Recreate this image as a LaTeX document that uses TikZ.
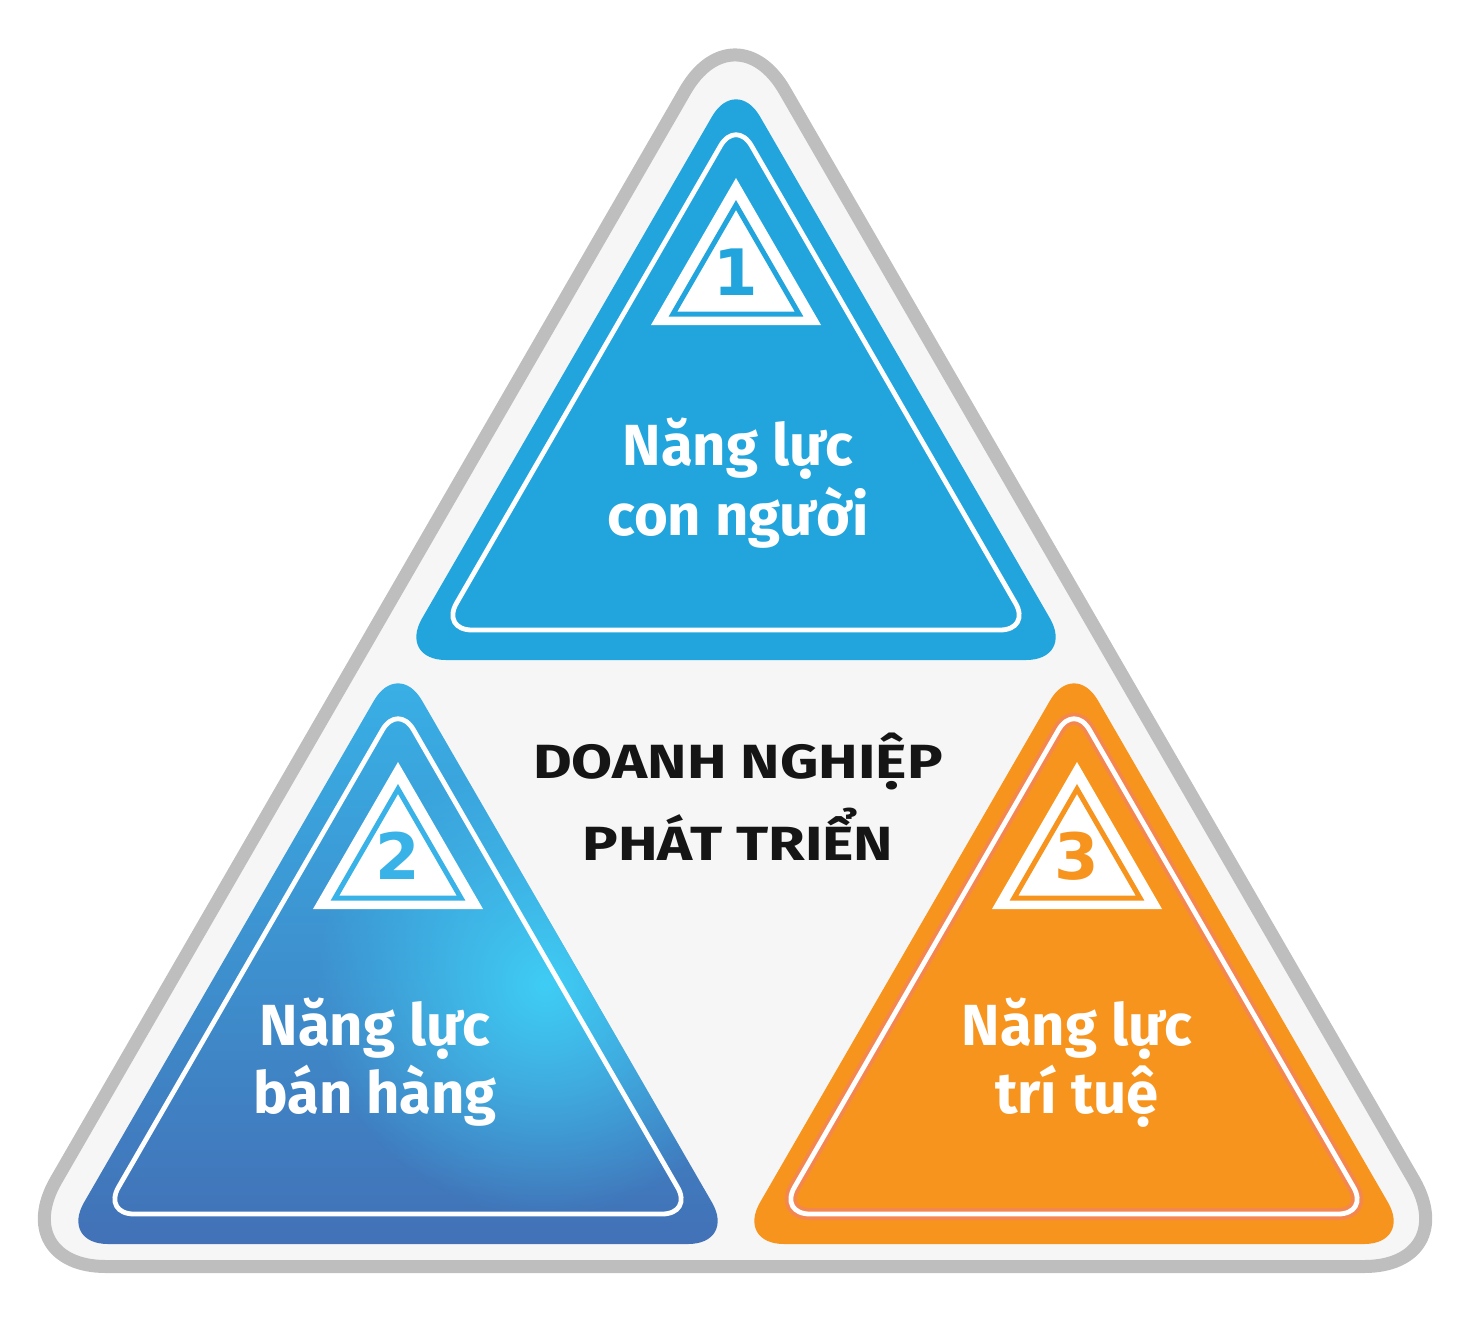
\documentclass[tikz,border=0pt]{standalone}
\usepackage{fontspec}
\setmainfont{Fira Sans}
\newfontfamily\numfont{DejaVu Sans}
\newfontfamily\headfont{Fira Sans}[FakeStretch=1.24]
\usetikzlibrary{fadings}
\definecolor{skyblue}{HTML}{22A5DD}
\definecolor{liteblue}{HTML}{38B2E7}
\definecolor{deepblue}{HTML}{4271B7}
\definecolor{glowblue}{HTML}{3FCDF5}
\definecolor{tangerine}{HTML}{F7941E}
\definecolor{rosyglow}{HTML}{F06CB0}
\definecolor{rimgray}{HTML}{BEBEBE}
\definecolor{panelgray}{HTML}{F6F6F6}
\definecolor{inkblack}{HTML}{151515}

\tikzfading[name=glowfade, inner color=transparent!0, outer color=transparent!100]

\tikzset{
  block/.style={rounded corners=24pt},
  rim/.style={white, line width=2.4pt, rounded corners=15.5pt},
  badge/.style={fill=white},
  badgeline/.style={line width=2.5pt, line join=miter},
  digit/.style={font=\numfont\fontsize{32}{32}\selectfont\bfseries},
  lvltext/.style={white, anchor=base, font=\fontsize{29}{29}\selectfont\bfseries},
  headtext/.style={inkblack, anchor=base, font=\headfont\fontsize{24}{24}\selectfont\bfseries}
}

\begin{document}
\begin{tikzpicture}[x=0.5pt, y=-0.5pt]
\useasboundingbox (0,0) rectangle (1476,1323);

% outer frame
\draw[rimgray, fill=panelgray, line width=6.5pt, rounded corners=49.8pt]
  (735,1266.5) -- (1463.7,1266.5) -- (735,4.4) -- (6.3,1266.5) -- cycle;

% top triangle
\fill[skyblue, block] (736,660) -- (1074,660) -- (736,75) -- (398,660) -- cycle;
\draw[rim] (736,630) -- (1031,630) -- (736,119) -- (441,630) -- cycle;
\fill[badge] (736,325) -- (821,325) -- (736,178) -- (651,325) -- cycle;
\draw[badgeline, skyblue] (736,314) -- (799,314) -- (736,205) -- (673,314) -- cycle;
\node[digit, text=skyblue] (n1) at (736,272) {1};
\node[lvltext] (t1a) at (738,465) {Năng lực};
\node[lvltext] (t1b) at (738,535) {con người};

% bottom left triangle
\shade[block, top color=liteblue, bottom color=deepblue]
  (398,1244) -- (736,1244) -- (398,659) -- (60,1244) -- cycle;
\begin{scope}
  \clip[block] (398,1244) -- (736,1244) -- (398,659) -- (60,1244) -- cycle;
  \fill[glowblue, path fading=glowfade] (545,985) circle (230);
\end{scope}
\draw[rim] (398,1214) -- (693,1214) -- (398,703) -- (103,1214) -- cycle;
\fill[badge] (398,909) -- (483,909) -- (398,762) -- (313,909) -- cycle;
\draw[badgeline, liteblue] (398,898) -- (461,898) -- (398,789) -- (335,898) -- cycle;
\node[digit, text=liteblue] (n2) at (398,856) {2};
\node[lvltext] (t2a) at (375,1045) {Năng lực};
\node[lvltext] (t2b) at (375,1113) {bán hàng};

% bottom right triangle
\fill[tangerine, block] (1074,1244) -- (1412,1244) -- (1074,659) -- (736,1244) -- cycle;
\draw[rosyglow, opacity=0.35, line width=6pt, rounded corners=15.5pt]
  (1074,1214) -- (1369,1214) -- (1074,703) -- (779,1214) -- cycle;
\draw[rim] (1074,1214) -- (1369,1214) -- (1074,703) -- (779,1214) -- cycle;
\fill[badge] (1077,909) -- (1162,909) -- (1077,762) -- (992,909) -- cycle;
\draw[badgeline, tangerine] (1077,898) -- (1140,898) -- (1077,789) -- (1014,898) -- cycle;
\node[digit, text=tangerine] (n3) at (1077,856) {3};
\node[lvltext] (t3a) at (1077,1045) {Năng lực};
\node[lvltext] (t3b) at (1077,1113) {trí tuệ};

% centre title
\node[headtext] (h1) at (738,778) {DOANH NGHIỆP};
\node[headtext] (h2) at (738,860) {PHÁT TRIỂN};
\end{tikzpicture}
\end{document}
